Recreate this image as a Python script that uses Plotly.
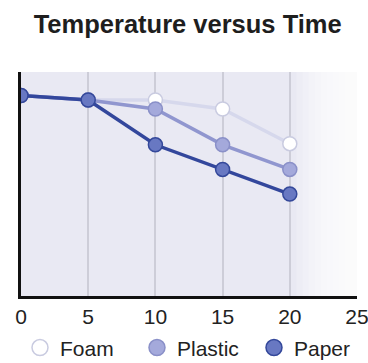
import plotly.graph_objects as go

time = [0, 5, 10, 15, 20]
foam = [89.5, 87.5, 87.5, 83.5, 68.0]
plastic = [89.5, 87.5, 83.5, 67.5, 56.5]
paper = [89.5, 87.5, 67.5, 56.5, 45.5]
x_ticks = [0, 5, 10, 15, 20, 25]

series = [
    ("Foam", foam, "#d6d8ec", "#ffffff", "#c9cbe0"),
    ("Plastic", plastic, "#9096cf", "#a4a9db", "#8a90c8"),
    ("Paper", paper, "#33479c", "#6878c2", "#34489a"),
]

fig = go.Figure()

# right-side fade of the plot background
fade_steps = 10
for i in range(fade_steps):
    x0 = 20.5 + i * (4.5 / fade_steps)
    fig.add_shape(type="rect", xref="x", yref="paper", x0=x0, x1=25, y0=0, y1=1,
                  fillcolor="white", opacity=0.2, line_width=0, layer="below")

for name, vals, lc, mc, mlc in series:
    fig.add_trace(go.Scatter(
        x=time, y=vals, mode="lines+markers", name=name, showlegend=False,
        line=dict(color=lc, width=3.5),
        marker=dict(size=14, color=mc, line=dict(color=mlc, width=1.5)),
    ))

for name, vals, lc, mc, mlc in series:
    fig.add_trace(go.Scatter(
        x=[None], y=[None], mode="markers", name=name, showlegend=True,
        marker=dict(size=16, color=mc, line=dict(color=mlc, width=1.5)),
    ))

fig.update_layout(
    width=368, height=363,
    margin=dict(l=21, r=11, t=72, b=67, autoexpand=False),
    paper_bgcolor="white",
    plot_bgcolor="#e9e9f3",
    font=dict(family="Liberation Sans, Arial, sans-serif", color="#222222"),
    title=dict(text="<b>Temperature versus Time</b>", x=0.51, xanchor="center",
               y=0.935, yanchor="middle", font=dict(size=25.5, color="#1e1e1e")),
    showlegend=True,
    legend=dict(orientation="h", x=-0.003, xanchor="left",
                y=-0.14, yanchor="top",
                font=dict(size=21, color="#222222"), itemwidth=30,
                entrywidth=72, entrywidthmode="pixels",
                bgcolor="rgba(0,0,0,0)"),
    xaxis=dict(range=[0, 25], tickvals=x_ticks, ticktext=[str(v) for v in x_ticks],
               showgrid=True, gridcolor="#cdcdd8", gridwidth=1.5,
               showline=True, linecolor="#111111", linewidth=2.5,
               ticks="", tickfont=dict(size=21, color="#222222"), zeroline=False,
               ticklabeloverflow="allow", fixedrange=True),
    yaxis=dict(range=[0, 100], showticklabels=False, showgrid=False,
               showline=True, linecolor="#111111", linewidth=2.5, ticks="",
               zeroline=False, fixedrange=True),
)

fig.write_html("out.html", config={"displayModeBar": False},
               post_script="document.body.style.margin='0';")
